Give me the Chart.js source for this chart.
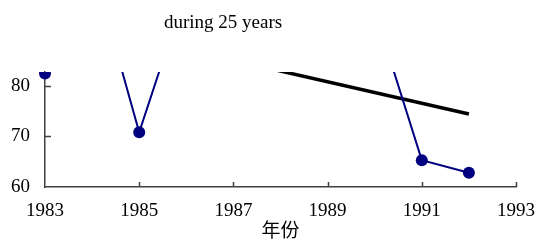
<!DOCTYPE html>
<html>
<head>
<meta charset="utf-8">
<script src="https://cdn.jsdelivr.net/npm/chart.js@4/dist/chart.umd.min.js"></script>
<style>
  body { margin: 0; background: #ffffff; }
  canvas { display: block; }
</style>
</head>
<body>
<canvas id="chart" width="537" height="246"></canvas>
<script>
const YEARS = [1983, 1984, 1985, 1986, 1987, 1988, 1989, 1990, 1991, 1992];
const VALUES = [82.4, 104, 70.8, 99, 97, 96, 95, 94.8, 65.3, 62.8];

const TREND_YEARS = [1983, 1992];
const TREND_VALUES = [93.5, 74.4];

const X_TICKS = [1983, 1985, 1987, 1989, 1991, 1993];
const Y_TICKS = [60, 70, 80];

const TITLE = "during 25 years";
const X_TITLE = "年份";

const FONT = '"Liberation Serif", "Noto Sans CJK SC", serif';
const AXIS_COLOR = "#404040";

const toPoints = (xs, ys) => xs.map((x, i) => ({ x: x, y: ys[i] }));

// title sits left of centre in the original, so draw it by hand
const titlePlugin = {
  id: "titleText",
  afterDraw(chart) {
    const ctx = chart.ctx;
    ctx.save();
    ctx.font = "19px " + FONT;
    ctx.fillStyle = "#000000";
    ctx.textAlign = "center";
    ctx.textBaseline = "middle";
    ctx.fillText(TITLE, 223, 23);
    ctx.restore();
  },
};

// small tick marks pointing into the plot
const innerTicks = {
  id: "innerTicks",
  beforeDatasetsDraw(chart) {
    const ctx = chart.ctx;
    const x = chart.scales.x;
    const y = chart.scales.y;
    ctx.save();
    ctx.strokeStyle = AXIS_COLOR;
    ctx.lineWidth = 1.5;
    ctx.beginPath();
    X_TICKS.slice(1).forEach((t) => {
      const px = Math.round(x.getPixelForValue(t)) + 0.5;
      ctx.moveTo(px, y.bottom);
      ctx.lineTo(px, y.bottom - 5);
    });
    Y_TICKS.slice(1).forEach((t) => {
      const py = Math.round(y.getPixelForValue(t)) + 0.5;
      ctx.moveTo(x.left, py);
      ctx.lineTo(x.left + 6, py);
    });
    ctx.stroke();
    ctx.restore();
  },
};

new Chart(document.getElementById("chart"), {
  type: "line",
  data: {
    datasets: [
      {
        data: toPoints(YEARS, VALUES),
        borderColor: "#000080",
        backgroundColor: "#000080",
        borderWidth: 2,
        pointRadius: 6,
        pointBorderWidth: 0,
        tension: 0,
        clip: { left: 20, top: 0, right: 20, bottom: 20 },
      },
      {
        data: toPoints(TREND_YEARS, TREND_VALUES),
        borderColor: "#000000",
        borderWidth: 3.5,
        pointRadius: 0,
        tension: 0,
        clip: { left: 20, top: 0, right: 20, bottom: 20 },
      },
    ],
  },
  options: {
    responsive: false,
    animation: false,
    layout: {
      padding: { top: 72, right: 0, left: 0, bottom: 0 },
    },
    plugins: {
      legend: { display: false },
      title: { display: false },
      tooltip: { enabled: false },
    },
    scales: {
      x: {
        type: "linear",
        min: 1983,
        max: 1993,
        afterBuildTicks: (scale) => {
          scale.ticks = X_TICKS.map((v) => ({ value: v }));
        },
        afterFit: (scale) => {
          scale.height = 59;
        },
        grid: { display: false, drawTicks: false },
        border: { display: true, color: AXIS_COLOR, width: 1.5 },
        ticks: {
          color: "#000000",
          padding: 2,
          maxRotation: 0,
          // tall line box pushes the labels down while keeping side padding small
          font: { family: FONT, size: 19, lineHeight: 2.35 },
          callback: (v) => String(v),
        },
        title: {
          display: true,
          text: X_TITLE,
          color: "#000000",
          font: { family: FONT, size: 19 },
          padding: { top: 2, bottom: 3 },
        },
      },
      y: {
        min: 60,
        max: 82.7,
        afterBuildTicks: (scale) => {
          scale.ticks = Y_TICKS.map((v) => ({ value: v }));
        },
        afterFit: (scale) => {
          scale.width = 45;
        },
        grid: { display: false, drawTicks: false },
        border: { display: true, color: AXIS_COLOR, width: 1.5 },
        ticks: {
          color: "#000000",
          padding: 15,
          font: { family: FONT, size: 19 },
        },
      },
    },
  },
  plugins: [titlePlugin, innerTicks],
});
</script>
</body>
</html>
